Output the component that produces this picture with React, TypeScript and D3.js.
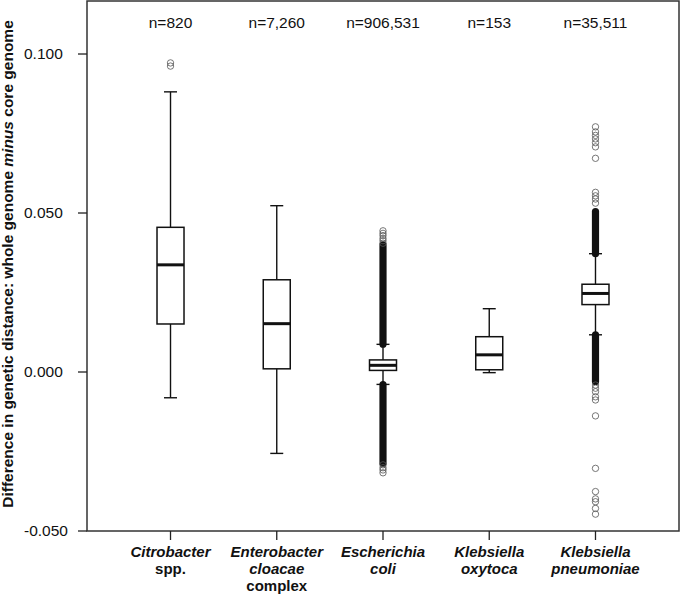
import React from "react";
import * as d3 from "d3";

const categories = ["Citrobacter", "Enterobacter", "Escherichia", "KOxytoca", "KPneumoniae"];
const labelLines: { t: string; i: boolean }[][] = [
  [{ t: "Citrobacter", i: true }, { t: "spp.", i: false }],
  [{ t: "Enterobacter", i: true }, { t: "cloacae", i: true }, { t: "complex", i: false }],
  [{ t: "Escherichia", i: true }, { t: "coli", i: true }],
  [{ t: "Klebsiella", i: true }, { t: "oxytoca", i: true }],
  [{ t: "Klebsiella", i: true }, { t: "pneumoniae", i: true }],
];
const nLabels = ["n=820", "n=7,260", "n=906,531", "n=153", "n=35,511"];

const whiskerLow = [-0.0081, -0.0256, -0.0039, -0.0002, 0.0117];
const q1 = [0.0151, 0.001, 0.0005, 0.0007, 0.0212];
const median = [0.0337, 0.0152, 0.0021, 0.0054, 0.0247];
const q3 = [0.0455, 0.029, 0.0038, 0.0111, 0.0276];
const whiskerHigh = [0.0881, 0.0523, 0.0087, 0.0199, 0.0372];

const outliers: number[][] = [
  [0.0972, 0.0962],
  [],
  [0.0444, 0.0436, 0.0429, 0.042, 0.0413, 0.0405, -0.0292, -0.0301, -0.0308, -0.0317],
  [],
  [
    0.0771, 0.0755, 0.0744, 0.0733, 0.0721, 0.0708, 0.0672, 0.0565, 0.0554, 0.0544, 0.0531,
    -0.0041, -0.0051, -0.0062, -0.0078, -0.0088, -0.0138, -0.0303, -0.0376, -0.0399, -0.0408,
    -0.0429, -0.0447,
  ],
];
// dense runs of overlapping outlier markers [low, high]
const denseBands: [number, number][][] = [
  [],
  [],
  [[0.0087, 0.04], [-0.0287, -0.0039]],
  [],
  [[0.0372, 0.0505], [-0.003, 0.0117]],
];

const yTicks = [0.1, 0.05, 0.0, -0.05];
const yTickLabels = ["0.100", "0.050", "0.000", "-0.050"];

const W = 680;
const H = 594;
const left = 87;
const right = 679;
const top = 1;
const bottom = 531;
const FONT = "'Liberation Sans', Arial, Helvetica, sans-serif";

export default function App() {
  const y = d3.scaleLinear().domain([-0.05, 0.11667]).range([bottom, top]);
  const x = d3.scalePoint<string>().domain(categories).range([left, right]).padding(0.786);
  const boxW = 27;
  const capW = 13;
  const r = 3.2;

  return (
    <svg
      width={W}
      height={H}
      style={{ position: "absolute", left: 0, top: 0, display: "block", background: "#fff" }}
      fontFamily={FONT}
    >
      {/* frame */}
      <rect x={left} y={top} width={right - left} height={bottom - top} fill="none" stroke="#333" strokeWidth={1.5} />

      {/* y ticks */}
      {yTicks.map((t, i) => (
        <g key={i}>
          <line x1={left - 9} x2={left} y1={y(t)} y2={y(t)} stroke="#222" strokeWidth={1.3} />
          <text x={24} y={y(t)} dy="0.35em" fontSize={15.5} fill="#111">
            {yTickLabels[i]}
          </text>
        </g>
      ))}

      {/* y label */}
      <text
        transform={`translate(13,${(top + bottom) / 2 - 2}) rotate(-90)`}
        textAnchor="middle"
        fontSize={15.5}
        fontWeight="bold"
        fill="#111"
      >
        Difference in genetic distance: whole genome <tspan fontStyle="italic">minus</tspan> core genome
      </text>

      {categories.map((c, i) => {
        const cx = x(c)!;
        return (
          <g key={c}>
            {/* x tick */}
            <line x1={cx} x2={cx} y1={bottom} y2={bottom + 9} stroke="#222" strokeWidth={1.3} />
            {/* labels */}
            {labelLines[i].map((l, j) => (
              <text
                key={j}
                x={cx}
                y={557 + j * 17}
                textAnchor="middle"
                fontSize={15}
                fontWeight="bold"
                fontStyle={l.i ? "italic" : "normal"}
                fill="#111"
              >
                {l.t}
              </text>
            ))}
            <text x={cx} y={28} textAnchor="middle" fontSize={15.5} fill="#111">
              {nLabels[i]}
            </text>

            {/* dense outlier bands */}
            {denseBands[i].map(([lo, hi], k) => (
              <rect
                key={k}
                x={cx - 3.6}
                width={7.2}
                y={y(hi) - 3.5}
                height={y(lo) - y(hi) + 7}
                rx={3.6}
                fill="#111"
              />
            ))}
            {/* outliers */}
            {outliers[i].map((v, k) => (
              <circle key={k} cx={cx} cy={y(v)} r={r} fill="none" stroke="#555" strokeWidth={0.8} />
            ))}

            {/* whiskers */}
            <line x1={cx} x2={cx} y1={y(whiskerHigh[i])} y2={y(q3[i])} stroke="#111" strokeWidth={1.4} />
            <line x1={cx} x2={cx} y1={y(q1[i])} y2={y(whiskerLow[i])} stroke="#111" strokeWidth={1.4} />
            <line
              x1={cx - capW / 2}
              x2={cx + capW / 2}
              y1={y(whiskerHigh[i])}
              y2={y(whiskerHigh[i])}
              stroke="#111"
              strokeWidth={1.4}
            />
            <line
              x1={cx - capW / 2}
              x2={cx + capW / 2}
              y1={y(whiskerLow[i])}
              y2={y(whiskerLow[i])}
              stroke="#111"
              strokeWidth={1.4}
            />
            {/* box */}
            <rect
              x={cx - boxW / 2}
              width={boxW}
              y={y(q3[i])}
              height={y(q1[i]) - y(q3[i])}
              fill="#fff"
              stroke="#111"
              strokeWidth={1.5}
            />
            <line
              x1={cx - boxW / 2}
              x2={cx + boxW / 2}
              y1={y(median[i])}
              y2={y(median[i])}
              stroke="#111"
              strokeWidth={3}
            />
          </g>
        );
      })}
    </svg>
  );
}
